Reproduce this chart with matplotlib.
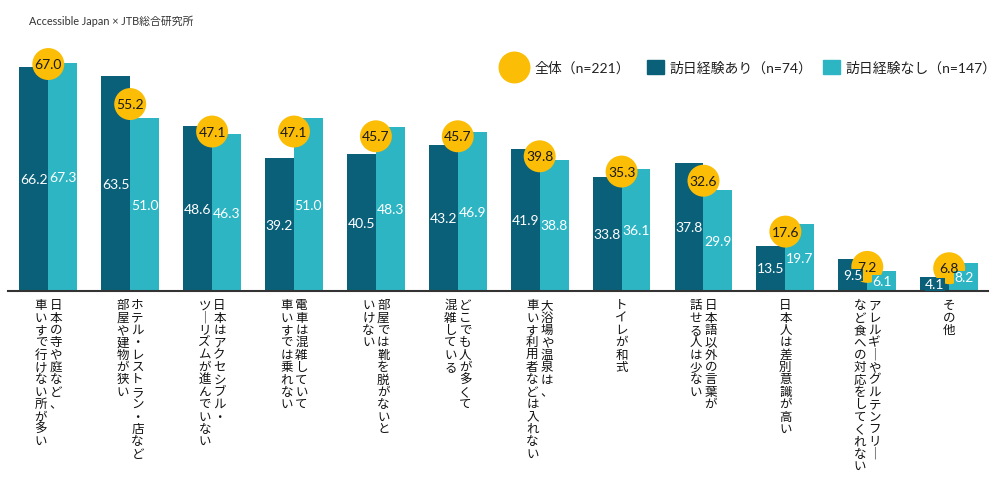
import matplotlib.pyplot as plt
from matplotlib.lines import Line2D
from matplotlib.patches import Rectangle

plt.rcParams["font.family"] = ["Noto Sans CJK JP", "DejaVu Sans"]
LATIN = ["Lato", "Noto Sans CJK JP", "DejaVu Sans"]

# one entry per category; first line is the right-hand column (vertical writing)
categories = [
    ["日本の寺や庭など、", "車いすで行けない所が多い"],
    ["ホテル・レストラン・店など", "部屋や建物が狭い"],
    ["日本はアクセシブル・", "ツーリズムが進んでいない"],
    ["電車は混雑していて", "車いすでは乗れない"],
    ["部屋では靴を脱がないと", "いけない"],
    ["どこでも人が多くて", "混雑している"],
    ["大浴場や温泉は、", "車いす利用者などは入れない"],
    ["トイレが和式"],
    ["日本語以外の言葉が", "話せる人は少ない"],
    ["日本人は差別意識が高い"],
    ["アレルギーやグルテンフリー", "など食への対応をしてくれない"],
    ["その他"],
]
total = [67.0, 55.2, 47.1, 47.1, 45.7, 45.7, 39.8, 35.3, 32.6, 17.6, 7.2, 6.8]
visited = [66.2, 63.5, 48.6, 39.2, 40.5, 43.2, 41.9, 33.8, 37.8, 13.5, 9.5, 4.1]
not_visited = [67.3, 51.0, 46.3, 51.0, 48.3, 46.9, 38.8, 36.1, 29.9, 19.7, 6.1, 8.2]

legend_labels = ["全体（n=221）", "訪日経験あり（n=74）", "訪日経験なし（n=147）"]
source = "Accessible Japan × JTB総合研究所"

DARK = "#0b6079"
LIGHT = "#2eb5c4"
YELLOW = "#fbbd06"
W, H = 1000, 485

fig = plt.figure(figsize=(10, 4.85), dpi=100)
ax = fig.add_axes([8 / W, (H - 292.3) / H, 980 / W, 292.3 / H])

x = list(range(len(categories)))
bw = 0.353
ax.bar([i - bw / 2 for i in x], visited, bw, color=DARK, zorder=1)
ax.bar([i + bw / 2 for i in x], not_visited, bw, color=LIGHT, zorder=1)
ax.scatter(x, total, s=23 ** 2, color=YELLOW, edgecolors="none", zorder=2, clip_on=False)

for i in x:
    for xi, v, c in [(i - bw / 2, visited[i], DARK), (i + bw / 2, not_visited[i], LIGHT)]:
        ax.text(xi, v / 2, f"{v:.1f}", ha="center", va="center", color="white",
                fontsize=10, family=LATIN, zorder=3,
                bbox=dict(boxstyle="square,pad=0.02", fc=c, ec="none"))
    ax.text(i, total[i], f"{total[i]:.1f}", ha="center", va="center",
            color="#1a1a1a", fontsize=10, family=LATIN, zorder=4)

# vertical (tategaki) category labels, drawn one character at a time
fs = 9
pitch = 8.9
vertical = {"ー": "｜"}
for i, lines in enumerate(categories):
    n = len(lines)
    for j, line in enumerate(lines):
        dx = 0 if n == 1 else (5.3 if j == 0 else -5.3)
        for k, ch in enumerate(line):
            dy = -(4.3 + 0.88 * fs + k * pitch)
            ax.annotate(vertical.get(ch, ch), xy=(i, 0), xytext=(dx, dy),
                        textcoords="offset points", ha="center", va="baseline",
                        fontsize=fs, color="#111111", annotation_clip=False)

ax.set_xlim(-0.492, 11.474)
ax.set_ylim(0, 292.3 / 3.392)
for side in ["top", "right", "left"]:
    ax.spines[side].set_visible(False)
ax.spines["bottom"].set_color("#333333")
ax.spines["bottom"].set_linewidth(1.5)
ax.set_xticks([])
ax.set_yticks([])

fig.text(29 / W, 1 - 21 / H, source, fontsize=7.8, family=LATIN, color="#333333",
         va="center")

# legend
ly = 1 - 68 / H
fig.add_artist(Line2D([514 / W], [ly], marker="o", markersize=23, color=YELLOW,
                      markeredgewidth=0, transform=fig.transFigure))
for x0, c in [(647, DARK), (823, LIGHT)]:
    fig.add_artist(Rectangle((x0 / W, ly - 6.5 / H), 17 / W, 13 / H, color=c,
                             transform=fig.transFigure))
for x0, lab in zip([535, 670, 846], legend_labels):
    fig.text(x0 / W, ly, lab, fontsize=10, family=LATIN, color="#222222", va="center")

fig.savefig("out.png", dpi=100)
